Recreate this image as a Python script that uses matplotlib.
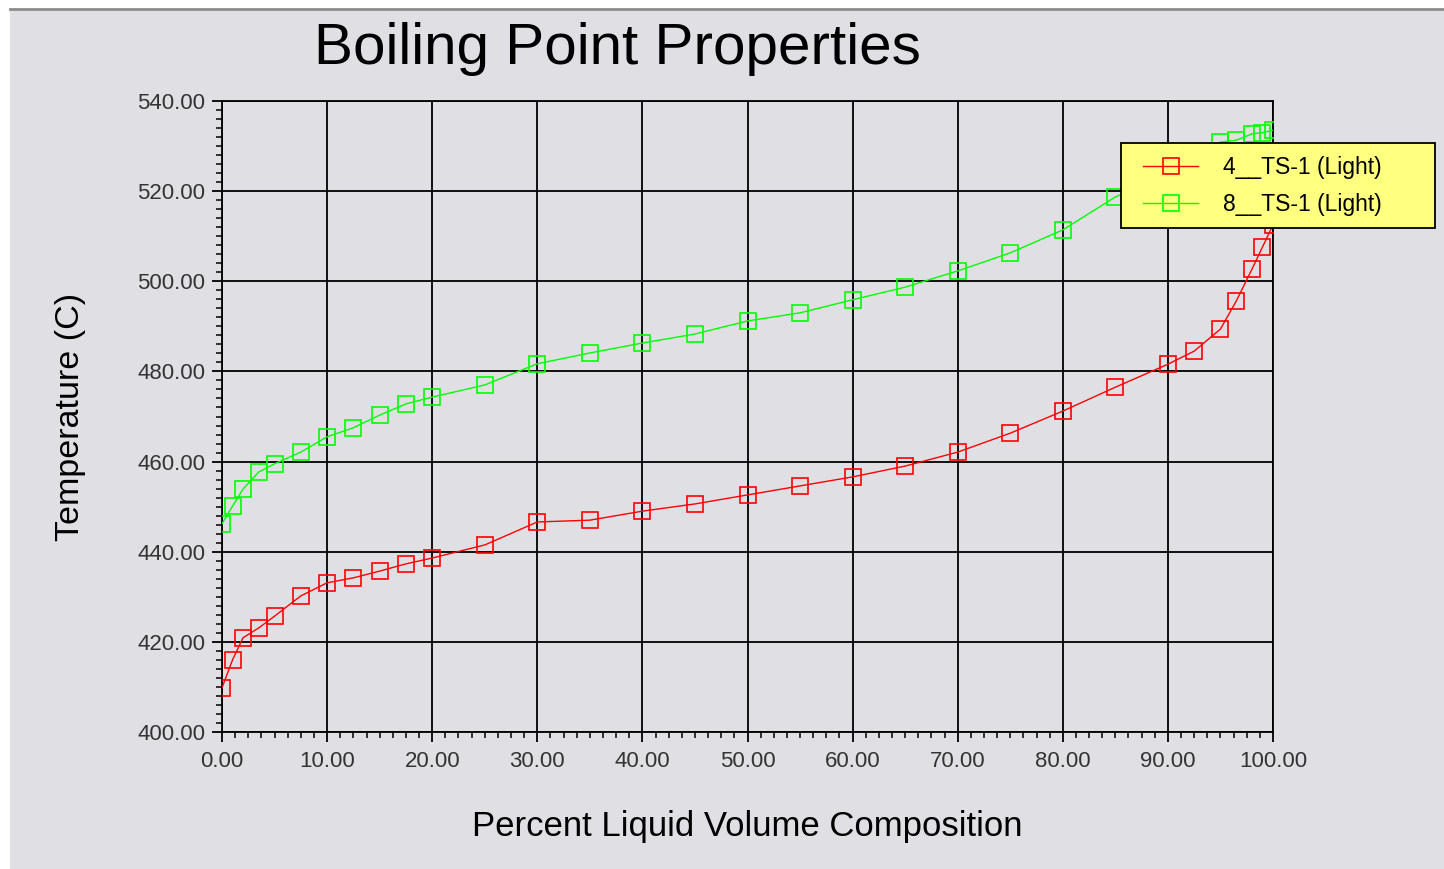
import numpy as np
import matplotlib.pyplot as plt
from matplotlib.ticker import MultipleLocator, FormatStrFormatter
from matplotlib.patches import Rectangle

# Dane
pct = [0, 1, 2, 3.5, 5, 7.5, 10, 12.5, 15, 17.5, 20, 25, 30, 35, 40, 45, 50,
       55, 60, 65, 70, 75, 80, 85, 90, 92.5, 95, 96.5, 98, 99, 100]
ts4 = [409.8, 416.0, 420.9, 423.1, 425.7, 430.2, 433.1, 434.2, 435.7, 437.3,
       438.6, 441.5, 446.6, 447.0, 449.0, 450.6, 452.6, 454.6, 456.6, 459.0,
       462.1, 466.3, 471.2, 476.5, 481.6, 484.5, 489.4, 495.6, 502.7, 507.6, 512.5]
ts8 = [446.2, 450.1, 453.9, 457.7, 459.5, 462.1, 465.5, 467.5, 470.3, 472.8,
       474.3, 477.0, 481.7, 484.1, 486.3, 488.3, 491.2, 493.0, 495.9, 498.7,
       502.3, 506.3, 511.4, 518.7, 524.0, 527.5, 530.9, 531.3, 532.7, 533.0, 533.5]
names = ['4__TS-1 (Light)', '8__TS-1 (Light)']

BG = '#e0dfe4'
W, H = 1444, 869

fig = plt.figure(figsize=(W / 100, H / 100), dpi=100, facecolor='white')
fig.patches.append(Rectangle((10 / W, 0), 1 - 10 / W, 1 - 10 / H,
                             transform=fig.transFigure, facecolor=BG,
                             edgecolor='none', zorder=-10))
fig.lines.append(plt.Line2D([10 / W, 1], [1 - 9 / H, 1 - 9 / H],
                            transform=fig.transFigure, color='#8c8c8c', lw=2))

ax = fig.add_axes([222 / W, 1 - 732 / H, (1273 - 222) / W, (732 - 101) / H])
ax.set_facecolor(BG)

ax.plot(pct, ts4, color='#ff0000', lw=1, marker='s', ms=11, mfc='none',
        mew=1.2, label=names[0], zorder=3)
ax.plot(pct, ts8, color='#00ff00', lw=1, marker='s', ms=11, mfc='none',
        mew=1.2, label=names[1], zorder=3)

ax.set_xlim(0, 100)
ax.set_ylim(400, 540)
ax.xaxis.set_major_locator(MultipleLocator(10))
ax.xaxis.set_minor_locator(MultipleLocator(1.25))
ax.yaxis.set_major_locator(MultipleLocator(20))
ax.yaxis.set_minor_locator(MultipleLocator(2))
ax.xaxis.set_major_formatter(FormatStrFormatter('%.2f'))
ax.yaxis.set_major_formatter(FormatStrFormatter('%.2f'))
ax.grid(True, which='major', color='black', lw=1.3)
ax.tick_params(which='major', length=7, width=1.3, direction='out',
               labelsize=16, labelcolor='#333333', pad=5)
ax.tick_params(axis='x', which='major', pad=7)
ax.tick_params(which='minor', length=4, width=1.1, direction='out')
for s in ax.spines.values():
    s.set_color('black')
    s.set_linewidth(1.3)
for lab in ax.get_xticklabels() + ax.get_yticklabels():
    lab.set_family('Liberation Sans')

ax.set_xlabel('Percent Liquid Volume Composition', fontsize=25,
              family='Liberation Sans', labelpad=27)
ax.set_ylabel('Temperature (C)', fontsize=24.5, family='Liberation Sans',
              labelpad=37)
fig.text(617 / W, 1 - 49 / H, 'Boiling Point Properties', fontsize=42,
         family='Liberation Sans', ha='center', va='center')

# żółte tło legendy
box = Rectangle((1121 / W, 1 - 228 / H), (1435 - 1121) / W, (228 - 143) / H,
                transform=fig.transFigure, facecolor='#ffff80',
                edgecolor='black', lw=1.3, zorder=4, clip_on=False)
ax.add_artist(box)

leg = ax.legend(loc='center left', bbox_to_anchor=(1143 / W, 1 - 186 / H),
                bbox_transform=fig.transFigure,
                prop={'family': 'Liberation Sans', 'size': 16.5},
                frameon=False, handlelength=2.4, borderpad=0,
                labelspacing=0.6, handletextpad=1.1, borderaxespad=0)
leg.set_zorder(5)

fig.savefig('out.png', dpi=100, facecolor=fig.get_facecolor())
